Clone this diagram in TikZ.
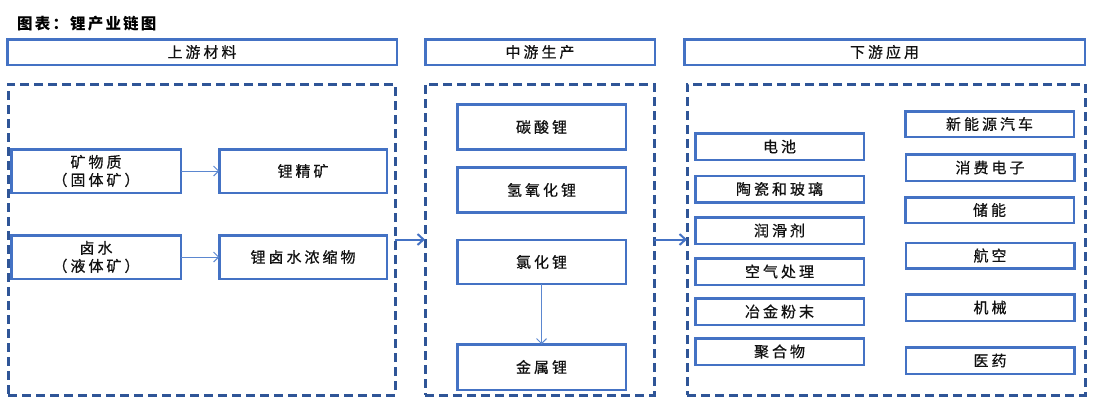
\documentclass[tikz,border=0pt]{standalone}
\usepackage{fontspec}
\usetikzlibrary{arrows.meta}
\newfontfamily\cjk{Noto Sans CJK SC}[LetterSpace=20,FakeBold=0.6]
\newfontfamily\cjktitle{Noto Sans CJK SC}[LetterSpace=14]
\definecolor{boxblue}{HTML}{4472C4}
\definecolor{dashblue}{HTML}{2F5597}
\definecolor{arrblue}{HTML}{5B87D0}
\definecolor{txt}{HTML}{111111}
\tikzset{
  box/.style={draw=boxblue, line width=2.5pt, fill=white, inner sep=0pt, outer sep=0pt,
    text=txt, font=\cjk\fontsize{15}{18}\selectfont, align=center},
  dashbox/.style={draw=dashblue, line width=3pt, dash pattern=on 9pt off 5pt, inner sep=0pt, outer sep=0pt},
  thinarr/.style={draw=arrblue, line width=1pt, -{Straight Barb[length=5pt,width=10pt]}},
  bigarr/.style={draw=boxblue, line width=2pt, -{Straight Barb[length=6pt,width=11pt]}},
}
\begin{document}
\begin{tikzpicture}[x=1pt,y=-1pt]
\useasboundingbox (0,0) rectangle (1094,405);
% title
\node[anchor=west, inner sep=0pt, text=black, font=\cjktitle\bfseries\fontsize{15.5}{18}\selectfont] (title) at (17,24) {图表：锂产业链图};
% headers
\node[box, minimum width=389.5pt, minimum height=25.5pt] (h1) at (202,52) {上游材料};
\node[box, minimum width=229.5pt, minimum height=25.5pt] (h2) at (540,52) {中游生产};
\node[box, minimum width=400.5pt, minimum height=25.5pt] (h3) at (884.5,52) {下游应用};
% dashed containers
\node[dashbox, minimum width=387pt, minimum height=311pt] (c1) at (201.5,239.5) {};
\node[dashbox, minimum width=229pt, minimum height=311pt] (c2) at (539.5,239.5) {};
\node[dashbox, minimum width=398pt, minimum height=311pt] (c3) at (886,239.5) {};
% upstream
\node[box, minimum width=169.5pt, minimum height=43.5pt] (u1) at (96,171) {矿物质\\（固体矿）};
\node[box, minimum width=167.5pt, minimum height=43.5pt] (u2) at (303,171) {锂精矿};
\node[box, minimum width=169.5pt, minimum height=43.5pt] (u3) at (96,257) {卤水\\（液体矿）};
\node[box, minimum width=167.5pt, minimum height=43.5pt] (u4) at (303,257) {锂卤水浓缩物};
% midstream
\node[box, minimum width=168.5pt, minimum height=45pt] (m1) at (541.5,127) {碳酸锂};
\node[box, minimum width=168.5pt, minimum height=45pt] (m2) at (541.5,190) {氢氧化锂};
\node[box, minimum width=168.5pt, minimum height=44pt] (m3) at (541.5,262) {氯化锂};
\node[box, minimum width=168.5pt, minimum height=45.5pt] (m4) at (541.5,367) {金属锂};
% downstream left column
\node[box, minimum width=168.5pt, minimum height=26.5pt] (d1) at (779.5,146.5) {电池};
\node[box, minimum width=168.5pt, minimum height=26.5pt] (d2) at (779.5,189) {陶瓷和玻璃};
\node[box, minimum width=168.5pt, minimum height=26.5pt] (d3) at (779.5,230.5) {润滑剂};
\node[box, minimum width=168.5pt, minimum height=26.5pt] (d4) at (779.5,271.5) {空气处理};
\node[box, minimum width=168.5pt, minimum height=26.5pt] (d5) at (779.5,311.5) {冶金粉末};
\node[box, minimum width=168.5pt, minimum height=26.5pt] (d6) at (779.5,351.5) {聚合物};
% downstream right column
\node[box, minimum width=168.5pt, minimum height=25.5pt] (e1) at (989.5,124) {新能源汽车};
\node[box, minimum width=168.5pt, minimum height=26.5pt] (e2) at (990,167.5) {消费电子};
\node[box, minimum width=168.5pt, minimum height=25.5pt] (e3) at (989.5,210) {储能};
\node[box, minimum width=168.5pt, minimum height=25.5pt] (e4) at (990,255.5) {航空};
\node[box, minimum width=168.5pt, minimum height=26.5pt] (e5) at (990,307.5) {机械};
\node[box, minimum width=168.5pt, minimum height=26.5pt] (e6) at (990,360.5) {医药};
% arrows
\draw[thinarr] (u1.east) -- (u2.west);
\draw[thinarr] (u3.east) -- (u4.west);
\draw[thinarr] (m3.south) -- (m4.north);
\draw[bigarr] (c1.east) -- (c2.west);
\draw[bigarr] (c2.east) -- (c3.west);
\end{tikzpicture}
\end{document}
